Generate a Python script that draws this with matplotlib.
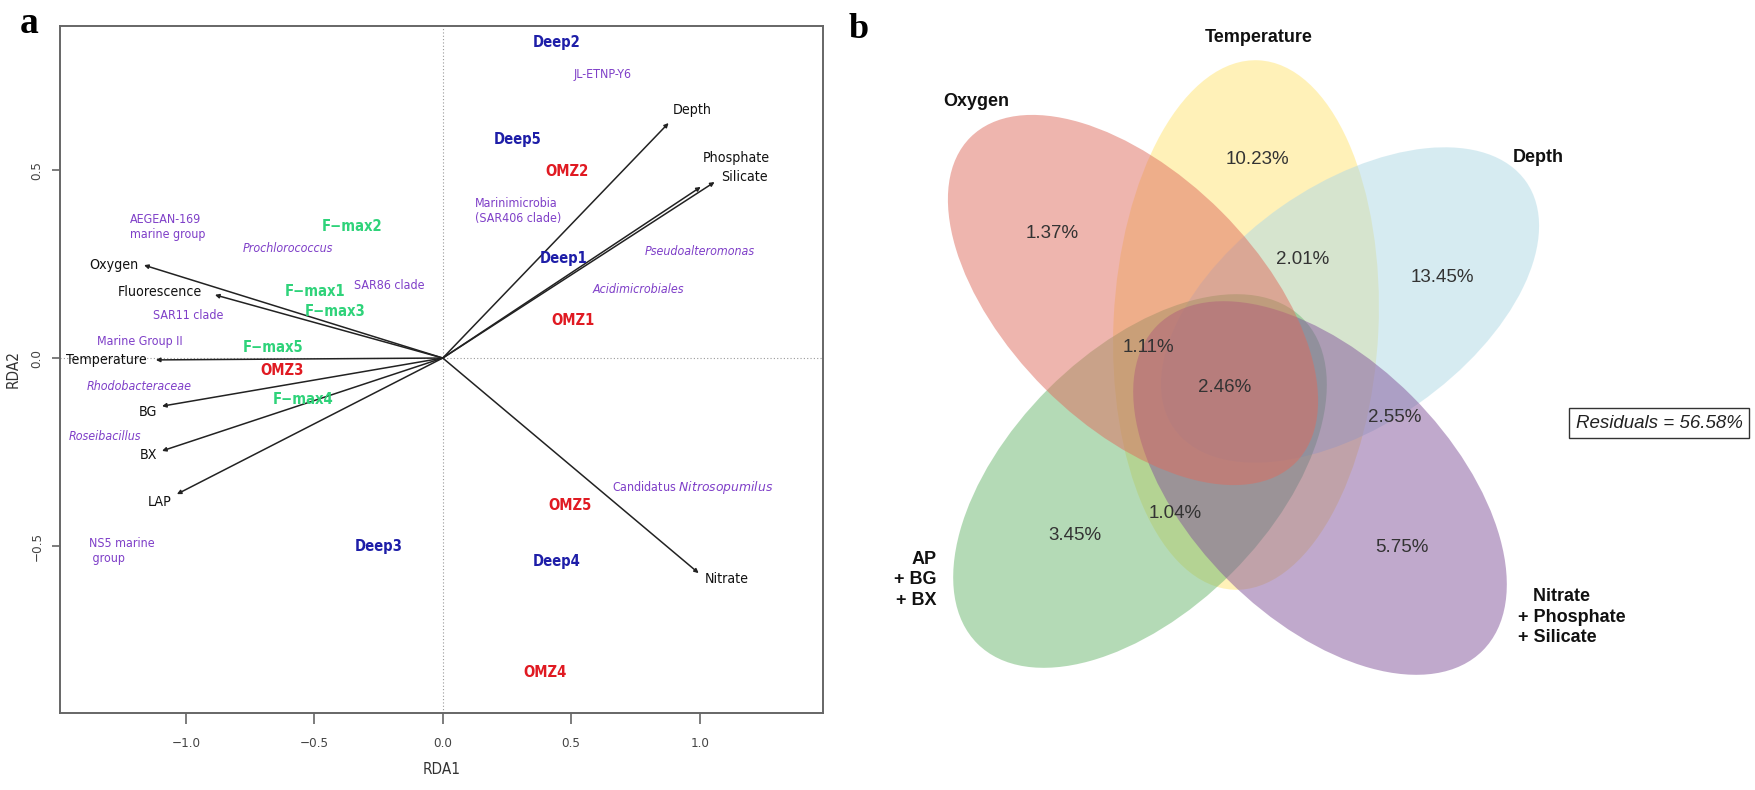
import matplotlib
matplotlib.use('Agg')
import matplotlib.pyplot as plt
from matplotlib.patches import Ellipse
from matplotlib import font_manager as fm

# ---------------- data: panel a (RDA biplot) ----------------
env_names = ['Oxygen', 'Fluorescence', 'Temperature', 'BG', 'BX', 'LAP',
             'Depth', 'Phosphate', 'Silicate', 'Nitrate']
env_rda1 = [-1.163, -0.887, -1.117, -1.093, -1.093, -1.035, 0.879, 1.004, 1.058, 0.996]
env_rda2 = [0.247, 0.168, -0.005, -0.128, -0.247, -0.362, 0.625, 0.455, 0.468, -0.572]

site_names = ['Deep1', 'Deep2', 'Deep3', 'Deep4', 'Deep5',
              'OMZ1', 'OMZ2', 'OMZ3', 'OMZ4', 'OMZ5',
              'F\u2212max1', 'F\u2212max2', 'F\u2212max3', 'F\u2212max4', 'F\u2212max5']
site_rda1 = [0.470, 0.443, -0.250, 0.445, 0.292,
             0.505, 0.482, -0.627, 0.397, 0.497,
             -0.498, -0.354, -0.420, -0.545, -0.661]
site_rda2 = [0.265, 0.840, -0.500, -0.542, 0.580,
             0.100, 0.495, -0.032, -0.835, -0.393,
             0.178, 0.351, 0.125, -0.109, 0.027]
site_group = ['Deep'] * 5 + ['OMZ'] * 5 + ['Fmax'] * 5

taxa_names = ['AEGEAN-169\nmarine group', 'Prochlorococcus', 'SAR86 clade', 'SAR11 clade',
              'Marine Group II', 'Rhodobacteraceae', 'Roseibacillus', 'NS5 marine\n group',
              'JL-ETNP-Y6', 'Marinimicrobia\n(SAR406 clade)', 'Pseudoalteromonas',
              'Acidimicrobiales', 'Candidatus $\\it{Nitrosopumilus}$']
taxa_rda1 = [-1.070, -0.603, -0.210, -0.992, -1.180, -1.180, -1.315, -1.250,
             0.623, 0.292, 1.000, 0.763, 0.974]
taxa_rda2 = [0.348, 0.290, 0.194, 0.114, 0.043, -0.077, -0.210, -0.513,
             0.755, 0.391, 0.282, 0.181, -0.343]
taxa_italic = [False, True, False, False, False, True, True, False,
               False, False, True, True, False]

x_ticks = [-1.0, -0.5, 0.0, 0.5, 1.0]
y_ticks = [-0.5, 0.0, 0.5]

# ---------------- data: panel b (variation partitioning Venn) ----------------
venn_sets = ['Oxygen', 'Temperature', 'Depth', 'AP\n+ BG\n+ BX',
             '   Nitrate\n+ Phosphate\n+ Silicate']
region_values = [1.37, 10.23, 13.45, 3.45, 5.75, 2.01, 1.11, 2.46, 2.55, 1.04]
residuals = 56.58

# ---------------- layout / style ----------------
avail = {f.name for f in fm.fontManager.ttflist}
NARROW = 'Liberation Sans Narrow' in avail
if NARROW:
    FA = dict(family='Liberation Sans Narrow')
    k = 1.2
else:
    FA = dict(family='DejaVu Sans', stretch='condensed')
    k = 1.0
plt.rcParams['mathtext.fontset'] = 'custom'
plt.rcParams['mathtext.rm'] = FA['family']
plt.rcParams['mathtext.it'] = FA['family'] + ':italic'

W, H = 1756, 790
fig = plt.figure(figsize=(W / 100, H / 100), dpi=100)

def frac_box(l, t, r, b):
    return [l / W, 1 - b / H, (r - l) / W, (b - t) / H]

# ======== panel a ========
ax = fig.add_axes(frac_box(60, 26, 823, 713))
ax.set_xlim(-1.49, 1.48)
ax.set_ylim(-0.944, 0.883)
ax.axhline(0, color='#999999', lw=0.8, ls=(0, (1, 2)), zorder=1)
ax.axvline(0, color='#999999', lw=0.8, ls=(0, (1, 2)), zorder=1)

for sp in ax.spines.values():
    sp.set_color('#666666')
    sp.set_linewidth(1.4)
ax.set_xticks(x_ticks)
ax.set_yticks(y_ticks)
ax.set_xticklabels([f'{v:.1f}'.replace('-', '\u2212') for v in x_ticks], **FA)
ax.set_yticklabels([f'{v:.1f}'.replace('-', '\u2212') for v in y_ticks], **FA,
                   rotation=90, va='center')
ax.tick_params(axis='both', direction='out', length=8, width=1.2, color='#666666',
               labelcolor='#444444', labelsize=9.6 * k)
ax.tick_params(axis='x', pad=9)
ax.tick_params(axis='y', length=6, pad=6)
ax.set_xlabel('RDA1', fontsize=11 * k, color='#333333', labelpad=9, **FA)
ax.set_ylabel('RDA2', fontsize=11 * k, color='#333333', labelpad=7, **FA)

# environmental arrows
env_label_layout = {  # ha, dx px, dy px
    'Oxygen': ('right', -6, 0), 'Fluorescence': ('right', -13, 3),
    'Temperature': ('right', -9, 0), 'BG': ('right', -5, -6),
    'BX': ('right', -5, -4), 'LAP': ('right', -5, -8),
    'Depth': ('left', 4, 13), 'Phosphate': ('left', 2, 29),
    'Silicate': ('left', 7, 5), 'Nitrate': ('left', 6, -6)}
for name, x, y in zip(env_names, env_rda1, env_rda2):
    ax.annotate('', xy=(x, y), xytext=(0, 0),
                arrowprops=dict(arrowstyle='-|>', color='#222222', lw=1.1,
                                mutation_scale=6, shrinkA=0, shrinkB=0), zorder=3)
    ha, dx, dy = env_label_layout[name]
    ax.annotate(name, xy=(x, y), xytext=(dx, dy), textcoords='offset pixels',
                ha=ha, va='center', fontsize=10.2 * k, color='#111111', zorder=4, **FA)

site_colors = {'Deep': '#1E1EA8', 'OMZ': '#E01A22', 'Fmax': '#2FD37A'}
for name, x, y, g in zip(site_names, site_rda1, site_rda2, site_group):
    ax.text(x, y, name, ha='center', va='center', fontsize=10.6 * k,
            fontweight='bold', color=site_colors[g], zorder=5, **FA)

for name, x, y, it in zip(taxa_names, taxa_rda1, taxa_rda2, taxa_italic):
    ax.text(x, y, name, ha='center', va='center', fontsize=8.9 * k,
            style='italic' if it else 'normal', color='#7F3FC8',
            multialignment='left', linespacing=1.25, zorder=5, **FA)

fig.text(29 / W, 1 - 33 / H, 'a', fontsize=27, fontweight='bold',
         family='Liberation Serif', ha='center', va='baseline')

# ======== panel b ========
bx = fig.add_axes([850 / W, 0, (W - 850) / W, 1])
bx.set_xlim(850, W)
bx.set_ylim(H, 0)
bx.axis('off')

# cx, cy (px from top), major, minor, screen angle (deg ccw); drawn in this order
ellipse_layout = {
    'Temperature': (1246, 325, 530, 265, 87.3),
    'Depth': (1350, 305, 430, 240, 35),
    'AP': (1140, 481, 460, 260, 45),
    'Nitrate': (1320, 488, 460, 260, 135),
    'Oxygen': (1133, 300, 460, 250, -45)}
ellipse_colors = {'Temperature': '#FFE573', 'Depth': '#AFD9E5', 'AP': '#6BB76F',
                  'Nitrate': '#83559B', 'Oxygen': '#DE6C5E'}
for key, (cx, cy, w, h, ang) in ellipse_layout.items():
    bx.add_patch(Ellipse((cx, cy), w, h, angle=-ang, facecolor=ellipse_colors[key],
                         alpha=0.5, edgecolor='none', zorder=2))

set_label_layout = [(976, 102, 'center'), (1259, 38, 'center'), (1538, 157, 'center'),
                    (937, 580, 'right'), (1518, 617, 'left')]
for name, (x, y, ha) in zip(venn_sets, set_label_layout):
    bx.text(x, y, name, ha=ha, va='center', fontsize=13, fontweight='bold',
            family='Liberation Sans', color='#111111',
            multialignment=ha, linespacing=1.25, zorder=5)

region_layout = [(1052, 233), (1257, 160), (1442, 277), (1075, 535), (1402, 548),
                 (1303, 260), (1148, 348), (1225, 387), (1395, 417), (1175, 513)]
for v, (x, y) in zip(region_values, region_layout):
    bx.text(x, y, f'{v:.2f}%', ha='center', va='center', fontsize=13.5,
            family='Liberation Sans', color='#333333', zorder=5)

bx.text(1576, 423, f'Residuals = {residuals:.2f}%', ha='left', va='center',
        fontsize=13.5, style='italic', family='Liberation Sans', color='#222222',
        bbox=dict(boxstyle='square,pad=0.35', facecolor='white',
                  edgecolor='#333333', lw=1.0), zorder=5)

fig.text(859 / W, 1 - 38 / H, 'b', fontsize=26, fontweight='bold',
         family='Liberation Serif', ha='center', va='baseline')

fig.savefig('out.png', dpi=100)
